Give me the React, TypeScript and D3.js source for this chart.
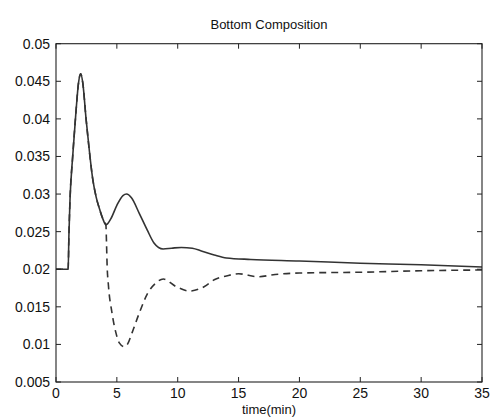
import React from "react";
import * as d3 from "d3";

const solidT = [0, 1.0, 1.06, 1.15, 1.37, 1.62, 1.85, 2.03, 2.2, 2.47, 2.79, 3.0, 3.3, 3.6, 3.85, 4.1, 4.5, 5.0, 5.5, 5.8, 6.2, 6.85, 7.5, 8.05, 8.8, 9.5, 10.3, 11.2, 12.0, 13.0, 14.0, 16.0, 20.0, 25.0, 30.0, 35.0];
const solidV = [0.02, 0.02, 0.0245, 0.0292, 0.035, 0.0405, 0.0448, 0.046, 0.0448, 0.04, 0.035, 0.0322, 0.0296, 0.0279, 0.0267, 0.0259, 0.0267, 0.0285, 0.0298, 0.03, 0.0295, 0.0274, 0.0252, 0.0235, 0.0227, 0.0228, 0.0229, 0.0228, 0.0224, 0.0219, 0.0215, 0.0213, 0.0211, 0.0208, 0.0206, 0.0203];

const dashT = [0, 1.0, 1.06, 1.15, 1.37, 1.62, 1.85, 2.03, 2.2, 2.47, 2.79, 3.0, 3.3, 3.6, 3.85, 4.1, 4.15, 4.2, 4.3, 4.6, 4.93, 5.2, 5.6, 5.9, 6.24, 6.85, 7.53, 8.16, 8.82, 9.86, 10.95, 12.2, 13.0, 14.0, 15.0, 16.6, 18.0, 20.0, 25.0, 30.0, 35.0];
const dashV = [0.02, 0.02, 0.0245, 0.0292, 0.035, 0.0405, 0.0448, 0.046, 0.0448, 0.04, 0.035, 0.0322, 0.0296, 0.0279, 0.0267, 0.0259, 0.0235, 0.0205, 0.018, 0.0142, 0.0115, 0.0102, 0.0097, 0.0101, 0.0115, 0.0142, 0.0168, 0.0181, 0.0187, 0.0177, 0.0171, 0.0177, 0.0186, 0.0191, 0.0194, 0.019, 0.0193, 0.0195, 0.0196, 0.0198, 0.0199];

const xTicks = [0, 5, 10, 15, 20, 25, 30, 35];
const yTicks = [0.005, 0.01, 0.015, 0.02, 0.025, 0.03, 0.035, 0.04, 0.045, 0.05];
const yTickLabels = ["0.005", "0.01", "0.015", "0.02", "0.025", "0.03", "0.035", "0.04", "0.045", "0.05"];
const titleText = "Bottom Composition";
const xLabelText = "time(min)";

export default function App() {
  const W = 495, H = 420;
  const left = 56, right = 482, top = 43.7, bottom = 382;
  const x = d3.scaleLinear().domain([0, 35]).range([left, right]);
  const y = d3.scaleLinear().domain([0.005, 0.05]).range([bottom, top]);
  const solidPath = d3.line<number>().curve(d3.curveMonotoneX).x((_, i) => x(solidT[i])).y((d) => y(d))(solidV) || "";
  const dashPath = d3.line<number>().curve(d3.curveMonotoneX).x((_, i) => x(dashT[i])).y((d) => y(d))(dashV) || "";
  const font = "'Liberation Sans', Arial, sans-serif";
  const tl = 5;
  const stroke = "#222";
  return (
    <svg width={W} height={H} style={{ position: "absolute", left: 0, top: 0, background: "#fff" }} fontFamily={font}>
      <rect x={0} y={0} width={W} height={H} fill="#fff" />
      <text x={(left + right) / 2} y={29} textAnchor="middle" fontSize={13} fill="#111">{titleText}</text>
      <path d={dashPath} fill="none" stroke="#333" strokeWidth={1.6} strokeDasharray="7,5" />
      <path d={solidPath} fill="none" stroke="#333" strokeWidth={1.6} />
      <rect x={left} y={top} width={right - left} height={bottom - top} fill="none" stroke={stroke} strokeWidth={1.1} />
      {xTicks.map((t) => (
        <g key={"x" + t}>
          <line x1={x(t)} x2={x(t)} y1={bottom} y2={bottom - tl} stroke={stroke} />
          <line x1={x(t)} x2={x(t)} y1={top} y2={top + tl} stroke={stroke} />
          <text x={x(t)} y={398} textAnchor="middle" fontSize={14} fill="#111">{t}</text>
        </g>
      ))}
      {yTicks.map((v, i) => (
        <g key={"y" + i}>
          <line x1={left} x2={left + tl} y1={y(v)} y2={y(v)} stroke={stroke} />
          <line x1={right} x2={right - tl} y1={y(v)} y2={y(v)} stroke={stroke} />
          <text x={50} y={y(v)} dy="0.35em" textAnchor="end" fontSize={14} fill="#111">{yTickLabels[i]}</text>
        </g>
      ))}
      <text x={(left + right) / 2} y={414} textAnchor="middle" fontSize={13} fill="#111">{xLabelText}</text>
    </svg>
  );
}
